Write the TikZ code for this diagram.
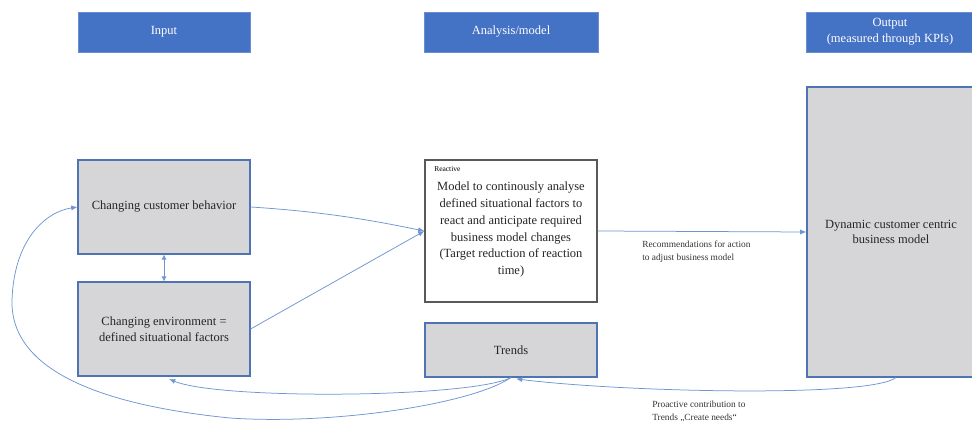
\documentclass[tikz,border=0pt]{standalone}
\usepackage{fontspec}
\setmainfont{Liberation Serif}
\usepackage{tikz}
\usetikzlibrary{arrows.meta}

\definecolor{hdrblue}{HTML}{4472C4}
\definecolor{boxgray}{HTML}{D6D6D8}
\definecolor{edgeblue}{HTML}{4F74B4}
\definecolor{arrblue}{HTML}{6F95D2}

\begin{document}
\begin{tikzpicture}[x=0.8pt,y=-0.8pt,
  header/.style={draw=hdrblue!80!white,fill=hdrblue,text=white,font=\fontsize{10}{12.5}\selectfont,align=center,inner sep=0pt},
  graybox/.style={draw=edgeblue,line width=0.9pt,fill=boxgray,text=black!85,font=\fontsize{10}{12.5}\selectfont,align=center,inner sep=0pt},
  arr/.style={draw=arrblue,line width=0.6pt,-{Latex[length=5pt,width=4pt]}},
  note/.style={font=\fontsize{7.5}{10}\selectfont,text=black!80,align=left,inner sep=0pt}]
\useasboundingbox (0,0) rectangle (972,421);
% headers
\node[header,minimum width=137.6pt,minimum height=32pt] (hin) at (164,32) {Input};
\node[header,minimum width=139.2pt,minimum height=32pt] (hana) at (511,32) {Analysis/model};
\node[header,minimum width=134.4pt,minimum height=32pt] (hout) at (890,32) {Output\\(measured through KPIs)};
% boxes
\node[graybox,minimum width=137.6pt,minimum height=75.2pt] (cust) at (164,207) {Changing customer behavior};
\node[graybox,minimum width=137.6pt,minimum height=75.2pt] (env) at (164,329) {Changing environment =\\defined situational factors};
\node[draw=black!65,line width=0.9pt,fill=white,minimum width=137.6pt,minimum height=113.6pt] (model) at (511,231) {};
\node[anchor=north west,inner sep=0pt,font=\fontsize{6}{7}\selectfont] (react) at (434,166) {Reactive};
\node[anchor=north,align=center,text=black!85,font=\fontsize{10}{13.4}\selectfont,inner sep=0pt] (modeltxt) at (511,182)
  {Model to continously analyse\\defined situational factors to\\react and anticipate required\\business model changes\\(Target reduction of reaction\\time)};
\node[graybox,minimum width=137.6pt,minimum height=43.2pt] (trends) at (511,350) {Trends};
\node[graybox,minimum width=134.4pt,minimum height=232pt] (out) at (891,232) {Dynamic customer centric\\business model};
% connectors
\draw[arr] (cust.east) .. controls (330,212) and (380,222) .. (model.west);
\draw[arr] (env.east) -- (model.west);
\draw[draw=arrblue,line width=0.6pt,{Latex[length=4pt,width=4pt]}-{Latex[length=4pt,width=4pt]}] (cust.south) -- (env.north);
\draw[arr] (model.east) -- (out.west);
\node[note,anchor=north west] (rec) at (642,241) {Recommendations for action\\to adjust business model};
\draw[arr] ([xshift=4pt]out.south) .. controls (870,398) and (620,392) .. ([xshift=4pt,yshift=-1pt]trends.south);
\draw[arr] (trends.south) .. controls (470,398) and (220,400) .. ([xshift=4pt,yshift=-2pt]env.south);
\draw[arr] (trends.south) .. controls (470,405) and (330,425) .. (230,418)
  .. controls (100,405) and (10,370) .. (12,300)
  .. controls (14,240) and (45,212) .. (cust.west);
\node[note,anchor=north west] (pro) at (652,401) {Proactive contribution to\\Trends „Create needs“};
\end{tikzpicture}
\end{document}
